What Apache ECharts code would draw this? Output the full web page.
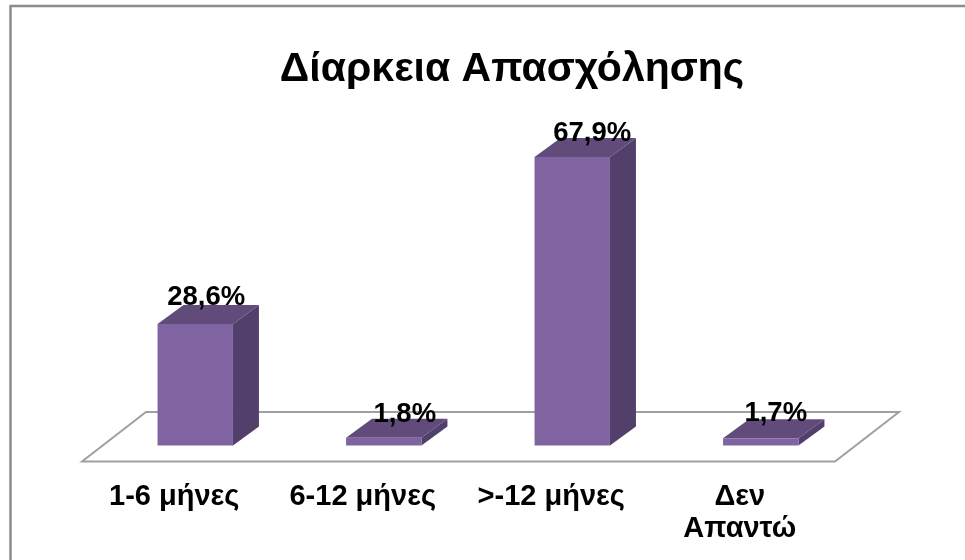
<!DOCTYPE html>
<html>
<head>
<meta charset="utf-8">
<style>
  html, body { margin: 0; padding: 0; background: #fff; }
  #chart { width: 965px; height: 560px; }
</style>
<script src="https://cdn.jsdelivr.net/npm/echarts@6/dist/echarts.min.js"></script>
</head>
<body>
<div id="chart"></div>
<script>
const categories = ["1-6 μήνες", "6-12 μήνες", ">-12 μήνες", "Δεν\nΑπαντώ"];
const values = [28.6, 1.8, 67.9, 1.7];
const valueLabels = ["28,6%", "1,8%", "67,9%", "1,7%"];

const FONT = '"Liberation Sans", Arial, sans-serif';
const DEPTH_X = 26;
const DEPTH_Y = 19;
// the labels do not sit centred on the bars in the original
const labelNudgeX = [11, 21, 20, 15];
const labelNudgeY = [-27, -23, -24, -25];

const chart = echarts.init(document.getElementById("chart"), null, { renderer: "canvas" });

// 3d look: front, side and top faces worked out from the axis scales
function renderBar(params, api) {
  const i = params.dataIndex;
  const pTop = api.coord([api.value(0), api.value(1)]);
  const pBase = api.coord([api.value(0), 0]);
  const w = api.size([1, 0])[0] * 0.4;
  const l = pTop[0] - w / 2;
  const r = pTop[0] + w / 2;
  const t = pTop[1];
  const b = pBase[1];
  return {
    type: "group",
    children: [
      {
        type: "polygon",
        shape: { points: [[r, b], [r + DEPTH_X, b - DEPTH_Y], [r + DEPTH_X, t - DEPTH_Y], [r, t]] },
        style: { fill: "#533f6b" },
      },
      {
        type: "polygon",
        shape: { points: [[l, t], [l + DEPTH_X, t - DEPTH_Y], [r + DEPTH_X, t - DEPTH_Y], [r, t]] },
        style: { fill: "#604b7b" },
      },
      {
        type: "rect",
        shape: { x: l, y: t, width: w, height: b - t },
        style: { fill: "#8064a2" },
      },
      {
        type: "text",
        x: pTop[0] + labelNudgeX[i],
        y: t + labelNudgeY[i],
        style: {
          text: valueLabels[i],
          align: "center",
          verticalAlign: "middle",
          font: 'bold 27.5px ' + FONT,
          fill: "#000",
        },
      },
    ],
  };
}

// floor of the chart, hung off the axis ends
function renderFloor(params, api) {
  const left = api.coord([0, 0]);
  const right = api.coord([categories.length - 1, 0]);
  const half = api.size([1, 0])[0] / 2;
  const x0 = left[0] - half - 19;
  const x1 = right[0] + half - 20;
  const yFront = left[1] + 16;
  const yBack = left[1] - 33.5;
  return {
    type: "polygon",
    shape: { points: [[x0, yFront], [x0 + 64, yBack], [x1 + 64, yBack], [x1, yFront]] },
    style: { fill: "#fff", stroke: "#a0a0a0", lineWidth: 2 },
  };
}

const option = {
  animation: false,
  backgroundColor: "#fff",
  title: {
    text: "Δίαρκεια Απασχόλησης",
    left: 507,
    top: 44,
    textAlign: "center",
    textStyle: { fontFamily: FONT, fontSize: 41, fontWeight: "bold", color: "#000" },
  },
  graphic: [
    {
      type: "polyline",
      silent: true,
      shape: { points: [[10.5, 560], [10.5, 6], [965, 6]] },
      style: { fill: "none", stroke: "#8c8c8c", lineWidth: 2.5 },
    },
  ],
  grid: { left: 101, top: 148, width: 754, height: 297.5 },
  xAxis: {
    type: "category",
    data: categories,
    axisLine: { show: false },
    axisTick: { show: false },
    axisLabel: {
      margin: 35,
      lineHeight: 32,
      padding: [0, 42, 0, 0],
      fontFamily: FONT,
      fontSize: 29,
      fontWeight: "bold",
      color: "#000",
      interval: 0,
    },
  },
  yAxis: { type: "value", min: 0, max: 70, show: false, splitLine: { show: false } },
  series: [
    {
      type: "custom",
      renderItem: renderFloor,
      data: [[0, 0]],
      silent: true,
      z: 1,
    },
    {
      type: "custom",
      renderItem: renderBar,
      data: values.map((v, i) => [i, v]),
      encode: { x: 0, y: 1 },
      z: 2,
    },
  ],
};

chart.setOption(option);
</script>
</body>
</html>
